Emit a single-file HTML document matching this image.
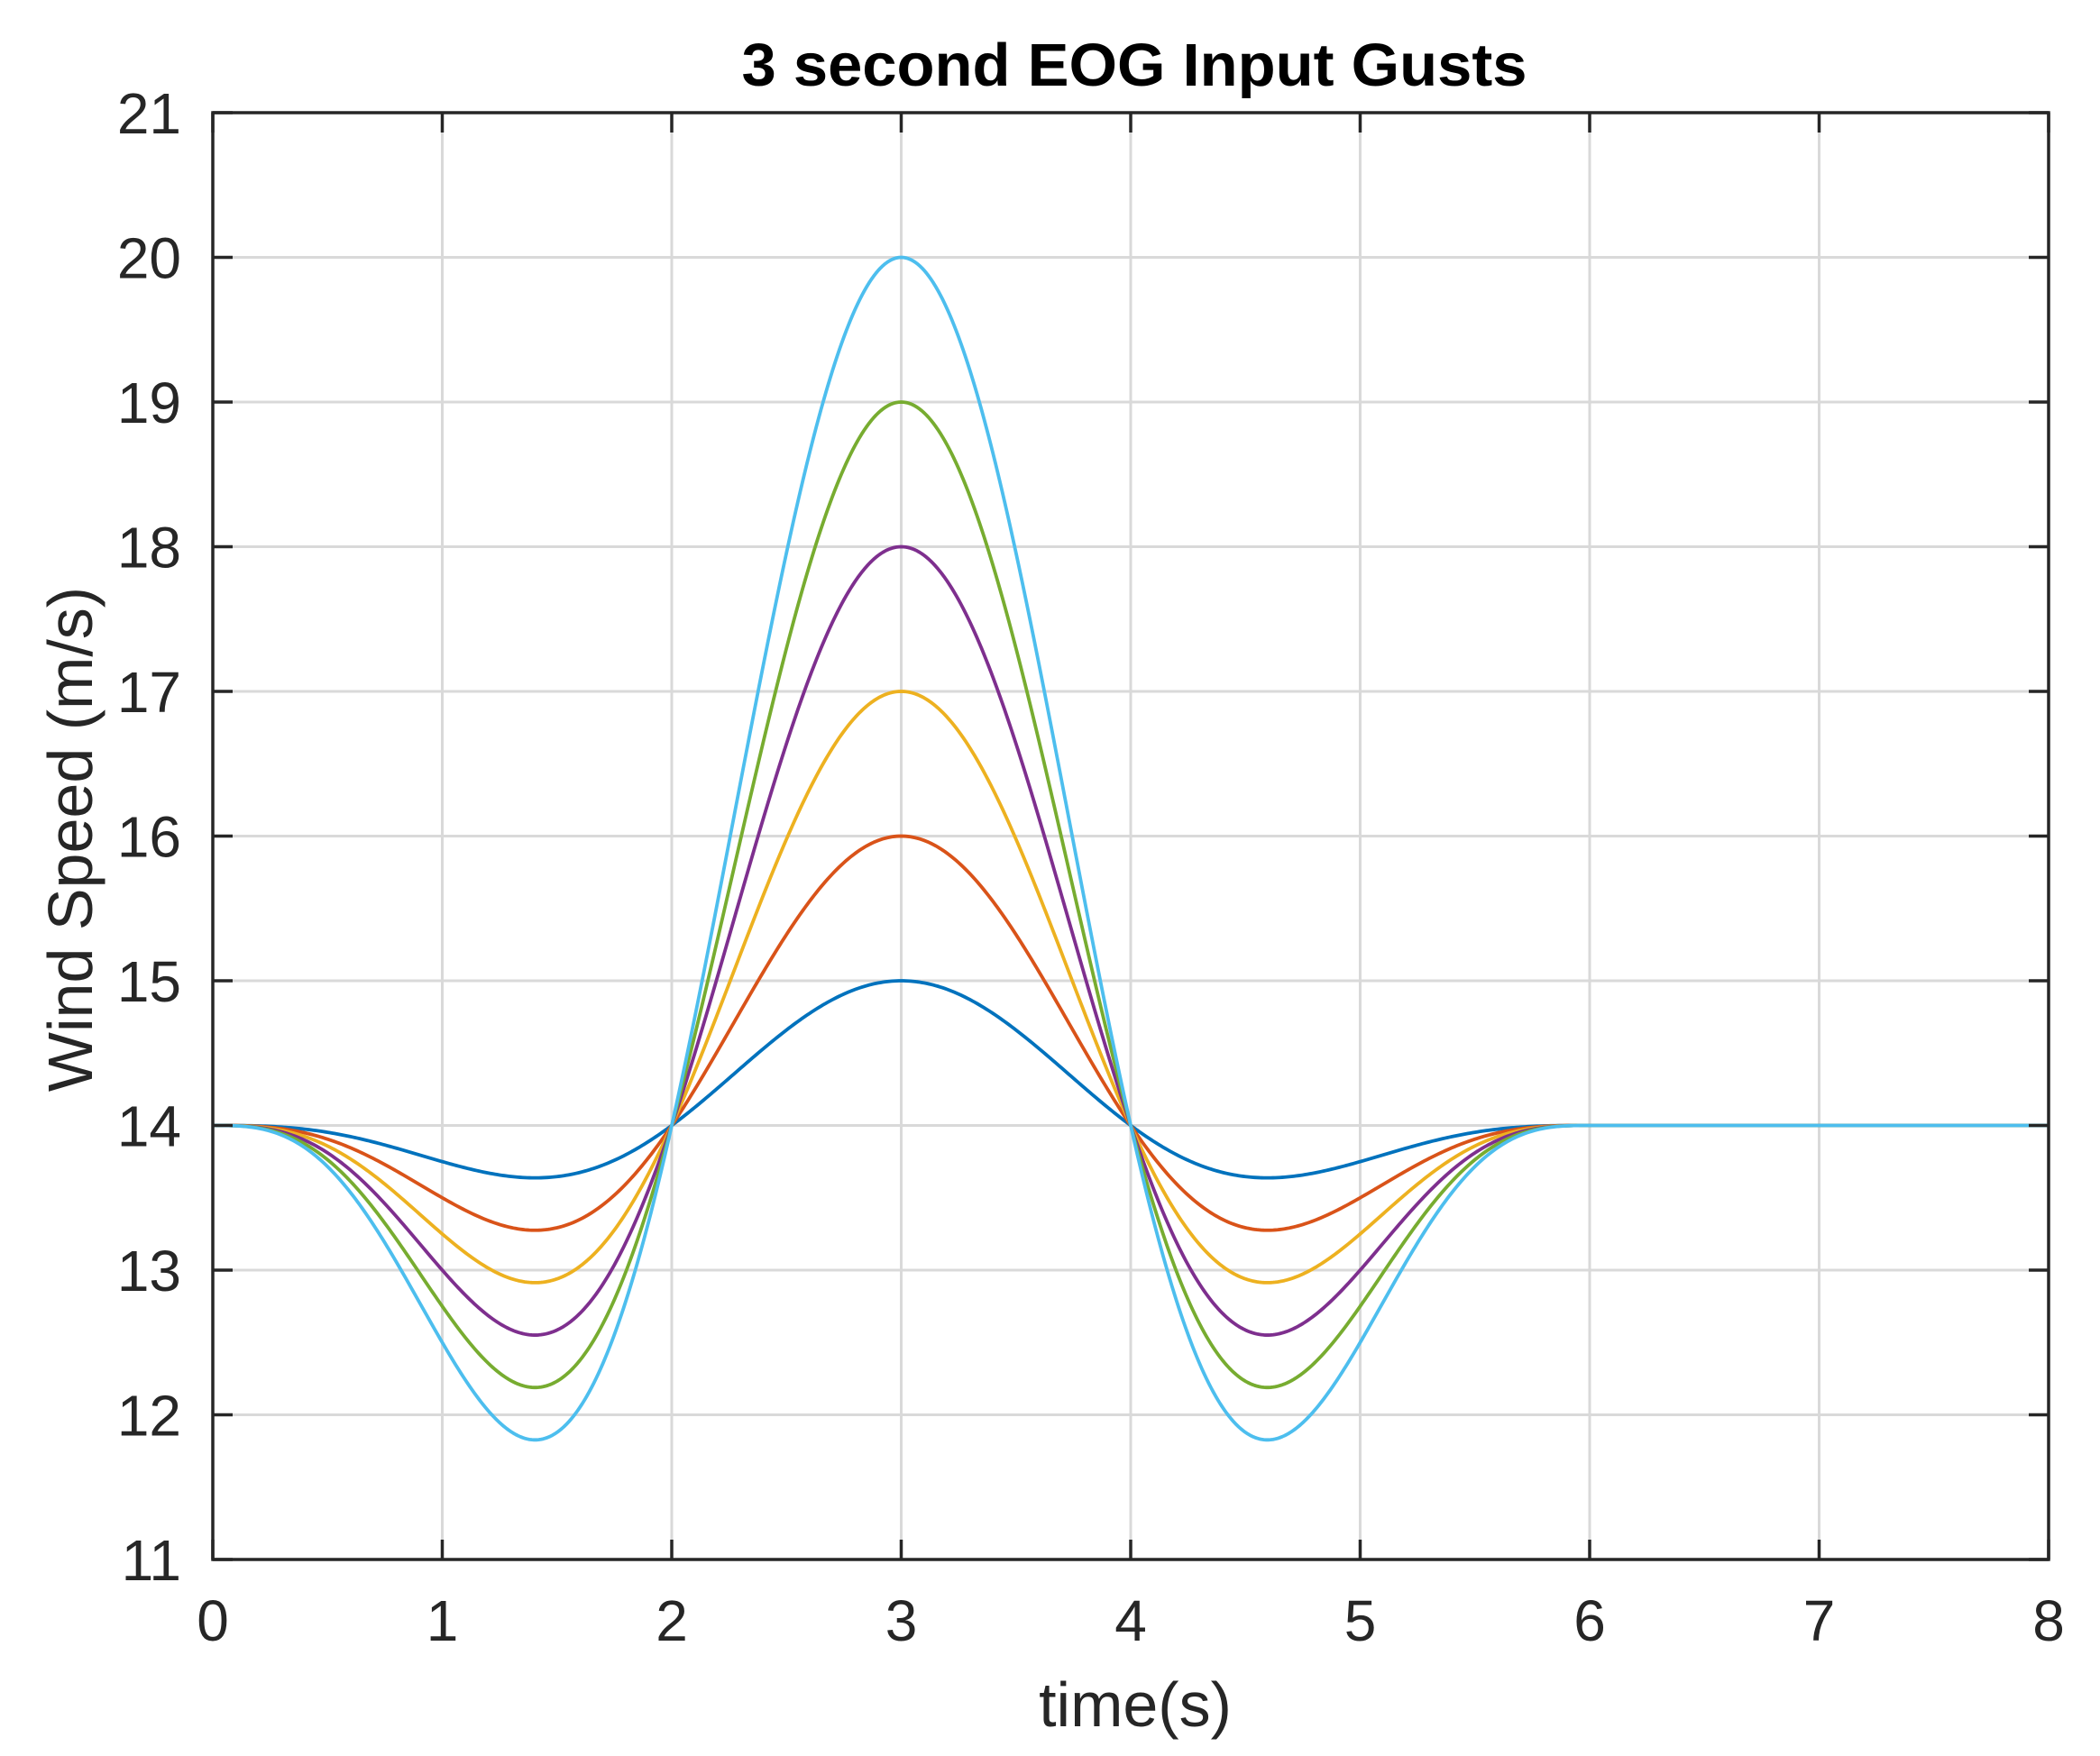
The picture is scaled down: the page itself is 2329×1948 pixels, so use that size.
<!DOCTYPE html>
<html><head><meta charset="utf-8"><style>
html,body{margin:0;padding:0;background:#fff;}
svg{display:block;}
text{font-family:"Liberation Sans",Arial,sans-serif;fill:#262626;}
</style></head><body>
<svg id="s" width="2329" height="1948" viewBox="0 0 2329 1948" xmlns="http://www.w3.org/2000/svg">
<rect width="2329" height="1948" fill="#fff"/>
<g id="grid" stroke="#d9d9d9" stroke-width="3"></g>
<g id="curves" fill="none" stroke-width="3.8" stroke-linejoin="round"></g>
<g id="axes" stroke="#262626" stroke-width="3.5" fill="none"></g>
<g id="labels" font-size="64"></g>
<text x="1258" y="95" font-size="67" font-weight="bold" text-anchor="middle" fill="#000" style="fill:#000" textLength="871" lengthAdjust="spacingAndGlyphs">3 second EOG Input Gusts</text>
<text x="1259" y="1915" font-size="70" text-anchor="middle">time(s)</text>
<text transform="translate(102,931) rotate(-90)" font-size="70" text-anchor="middle">Wind Speed (m/s)</text>
</svg>
<script>
var L=236,T=125,R=2272,B=1730;
function X(t){return L+(R-L)*t/8;}
function Y(v){return B-(B-T)*(v-11)/10;}
var ns="http://www.w3.org/2000/svg";
function el(p,n,a){var e=document.createElementNS(ns,n);for(var k in a)e.setAttribute(k,a[k]);p.appendChild(e);return e;}
var g=document.getElementById('grid'),ax=document.getElementById('axes'),lb=document.getElementById('labels'),cv=document.getElementById('curves');
for(var i=1;i<8;i++){el(g,'line',{x1:X(i),y1:T,x2:X(i),y2:B});}
for(var v=12;v<21;v++){el(g,'line',{x1:L,y1:Y(v),x2:R,y2:Y(v)});}
var cols=["#0072BD","#D95319","#EDB120","#7E2F8E","#77AC30","#4DBEEE"];
for(var k=0;k<6;k++){var A=(k+1)/0.74,d="";
for(var j=0;j<=800;j++){var t=j*8/800,v=14;if(t<=6)v=14-0.37*A*Math.sin(3*Math.PI*t/6)*(1-Math.cos(2*Math.PI*t/6));
d+=(j?"L":"M")+X(t).toFixed(2)+" "+Y(v).toFixed(2);}
el(cv,'path',{d:d,stroke:cols[k]});}
el(ax,'rect',{x:L,y:T,width:R-L,height:B-T});
for(var i=0;i<=8;i++){el(ax,'line',{x1:X(i),y1:B,x2:X(i),y2:B-22});el(ax,'line',{x1:X(i),y1:T,x2:X(i),y2:T+22});
var tx=el(lb,'text',{x:X(i),y:1820,'text-anchor':'middle'});tx.textContent=i;}
for(var v=11;v<=21;v++){el(ax,'line',{x1:L,y1:Y(v),x2:L+22,y2:Y(v)});el(ax,'line',{x1:R,y1:Y(v),x2:R-22,y2:Y(v)});
var tx=el(lb,'text',{x:201,y:Y(v)+23,'text-anchor':'end'});tx.textContent=v;}
</script>
</body></html>
